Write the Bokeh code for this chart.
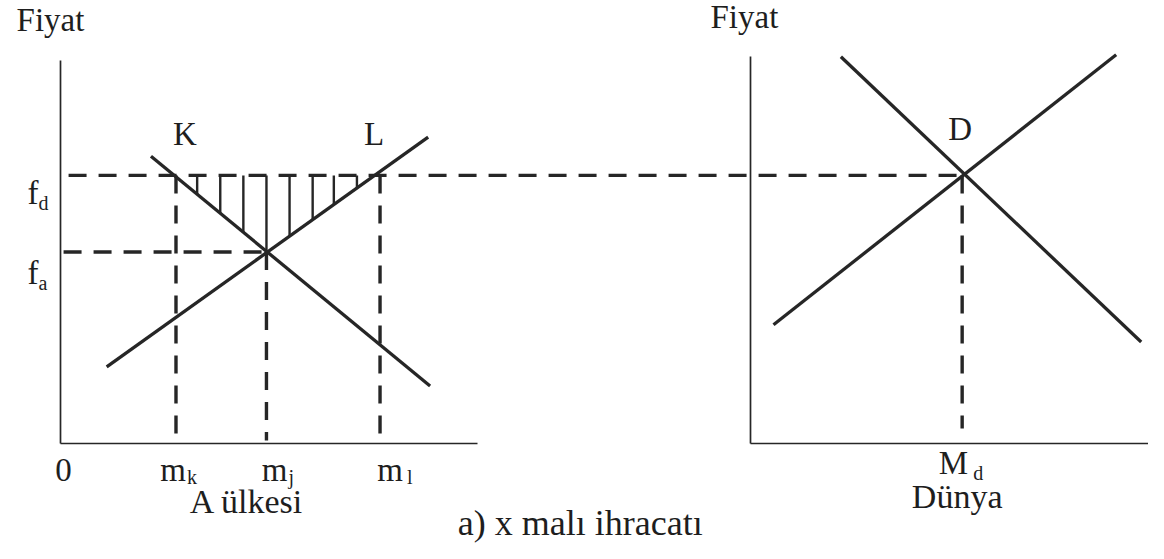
from bokeh.plotting import figure
from bokeh.models import Range1d, LinearAxis, FixedTicker
from bokeh.embed import file_html
from bokeh.resources import INLINE
from bokeh.core.properties import value
import numpy as np

# ---------------- data ----------------
# Country A (left panel)
a_supply_q = [1.2, 9.55]
a_supply_p = [2.0, 8.0]
a_demand_q = [2.35, 9.6]
a_demand_p = [7.5, 1.5]
f_a = 5.0          # autarky price
f_d = 7.0          # world price
m_k = 3.0
m_j = 5.35
m_l = 8.3
hatch_q = [3.55, 4.15, 4.75, 5.35, 5.95, 6.55, 7.1, 7.7]

# World (right panel)
w_supply_q = [0.6, 9.5]
w_supply_p = [3.1, 10.15]
w_demand_q = [2.35, 10.15]
w_demand_p = [10.1, 2.65]
M_d = 5.5

W0 = 17.92           # horizontal origin of the world panel
A_AXIS_END = 10.83
A_PRICE_TOP = 10.0
W_PRICE_TOP = 10.1

# ---------------- figure ----------------
FONT = value("Liberation Serif")
INK = "#262626"
TXT = "#1e1e1e"

p = figure(width=1148, height=543, output_backend="svg", toolbar_location=None,
           x_axis_type=None, y_axis_type=None, min_border=0,
           x_range=Range1d(-1.558, 28.26), y_range=Range1d(-2.611, 11.567),
           outline_line_color=None, background_fill_color="white")
p.xgrid.visible = False
p.ygrid.visible = False


def axis(loc, bounds, side):
    ax = LinearAxis(fixed_location=loc, bounds=bounds, ticker=FixedTicker(ticks=[]),
                    axis_line_width=1.7, axis_line_color=INK,
                    major_tick_line_color=None, minor_tick_line_color=None,
                    major_label_text_font_size="0px")
    p.add_layout(ax, side)


axis(0, (0, A_PRICE_TOP), "left")
axis(0, (0, A_AXIS_END), "below")
axis(W0, (0, W_PRICE_TOP), "left")
axis(0, (W0, 40), "below")

DASH = "18 12"
DW = 3.4

# dashed guide lines
p.line([0.21, W0 + M_d], [f_d, f_d], line_dash=DASH, line_width=DW, line_color=INK, line_cap="butt")
p.line([0.08, m_j], [f_a, f_a], line_dash=DASH, line_width=DW, line_color=INK, line_cap="butt")
p.line([m_k, m_k], [f_d, 0.26], line_dash=DASH, line_width=DW, line_color=INK, line_cap="butt")
p.line([m_l, m_l], [f_d, 0.26], line_dash=DASH, line_width=DW, line_color=INK, line_cap="butt")
p.line([m_j, m_j], [f_a, 0.08], line_dash=DASH, line_width=DW, line_color=INK, line_cap="butt")
p.line([W0 + M_d, W0 + M_d], [f_d, 0.39], line_dash=DASH, line_width=DW, line_color=INK, line_cap="butt")

# hatching (export gain area)
hq = np.array(hatch_q)
bottom = np.maximum(np.interp(hq, a_demand_q, a_demand_p), np.interp(hq, a_supply_q, a_supply_p))
p.segment(x0=hq, y0=[f_d] * len(hq), x1=hq, y1=bottom, line_width=2.4, line_color=INK)

# curves
p.line(a_supply_q, a_supply_p, line_width=3.3, line_color=INK)
p.line(a_demand_q, a_demand_p, line_width=3.3, line_color=INK)
p.line([W0 + q for q in w_supply_q], w_supply_p, line_width=3.3, line_color=INK)
p.line([W0 + q for q in w_demand_q], w_demand_p, line_width=3.3, line_color=INK)


def txt(x, y, s, size=33, align="center", dx=0, dy=0):
    corr = -round(0.33 * size)
    p.text(x=[x], y=[y], text=[s], text_font=FONT, text_font_size=f"{size}px", text_color=TXT,
           text_align=align, text_baseline="alphabetic", x_offset=dx, y_offset=dy + corr)


SUB = 20
# axis titles
txt(0, A_PRICE_TOP, "Fiyat", dx=-10, dy=-30)
txt(W0, W_PRICE_TOP, "Fiyat", dx=-6, dy=-29)
# point labels
txt(m_k, f_d, "K", dx=9, dy=-30)
txt(m_l, f_d, "L", dx=-6, dy=-30)
txt(W0 + M_d, f_d, "D", dx=-2, dy=-35)
# price labels
txt(0, f_d, "f", align="right", dx=-22, dy=29)
txt(0, f_d, "d", size=SUB, align="left", dx=-22, dy=35)
txt(0, f_a, "f", align="right", dx=-22, dy=32)
txt(0, f_a, "a", size=SUB, align="left", dx=-22, dy=38)
# quantity labels
txt(0, 0, "0", dx=3, dy=37)
txt(m_k, 0, "m", align="right", dx=10, dy=37)
txt(m_k, 0, "k", size=SUB, align="left", dx=11, dy=40)
txt(m_j, 0, "m", align="right", dx=21, dy=37)
txt(m_j, 0, "j", size=SUB, align="left", dx=22, dy=40)
txt(m_l, 0, "m", align="right", dx=23, dy=37)
txt(m_l, 0, "l", size=SUB, align="left", dx=27, dy=40)
txt(A_AXIS_END / 2, 0, "A ülkesi", size=34, dx=-22, dy=69)
txt(W0 + M_d, 0, "M", align="right", dx=6, dy=30)
txt(W0 + M_d, 0, "d", size=SUB, align="left", dx=11, dy=36)
txt(W0 + M_d, 0, "Dünya", size=34, dx=-5, dy=64)
# caption
txt(13.5, 0, "a) x malı ihracatı", size=36, dy=91)

open("out.html", "w").write(file_html(p, INLINE))
